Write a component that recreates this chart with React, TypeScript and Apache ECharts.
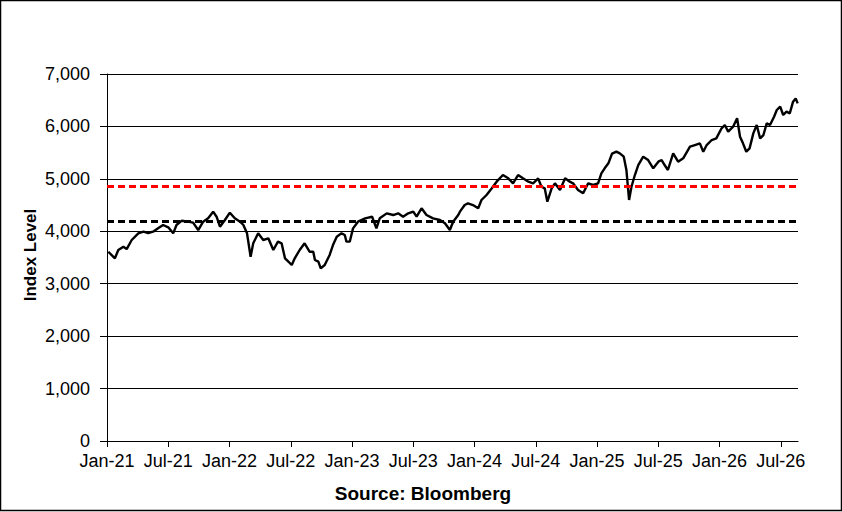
import React, { useEffect, useRef } from "react";
import * as echarts from "echarts";

const xTickLabels = ["Jan-21", "Jul-21", "Jan-22", "Jul-22", "Jan-23", "Jul-23", "Jan-24", "Jul-24", "Jan-25", "Jul-25", "Jan-26", "Jul-26"];
const yTicks = [0, 1000, 2000, 3000, 4000, 5000, 6000, 7000];

const dates = [
  "2021-01-05", "2021-01-25", "2021-02-04", "2021-02-18", "2021-02-27", "2021-03-14", "2021-04-03", "2021-04-18",
  "2021-05-02", "2021-05-17", "2021-06-01", "2021-06-16", "2021-07-01", "2021-07-16", "2021-07-26", "2021-08-11",
  "2021-08-30", "2021-09-14", "2021-09-29", "2021-10-14", "2021-10-29", "2021-11-13", "2021-11-23", "2021-12-03",
  "2021-12-18", "2022-01-02", "2022-01-17", "2022-02-02", "2022-02-11", "2022-02-21", "2022-03-03", "2022-03-11",
  "2022-03-26", "2022-04-10", "2022-04-25", "2022-05-10", "2022-05-24", "2022-06-04", "2022-06-14", "2022-06-24",
  "2022-07-04", "2022-07-13", "2022-07-28", "2022-08-12", "2022-08-27", "2022-09-07", "2022-09-12", "2022-09-22",
  "2022-09-29", "2022-10-11", "2022-10-26", "2022-11-05", "2022-11-16", "2022-11-30", "2022-12-10", "2022-12-15",
  "2022-12-25", "2023-01-04", "2023-01-19", "2023-02-09", "2023-02-28", "2023-03-13", "2023-03-23", "2023-04-13",
  "2023-05-02", "2023-05-17", "2023-06-01", "2023-06-16", "2023-07-01", "2023-07-11", "2023-07-26", "2023-08-10",
  "2023-08-30", "2023-09-19", "2023-10-04", "2023-10-19", "2023-10-29", "2023-11-13", "2023-11-18", "2023-12-02",
  "2023-12-12", "2023-12-27", "2024-01-12", "2024-01-22", "2024-02-06", "2024-02-21", "2024-03-06", "2024-03-25",
  "2024-04-10", "2024-04-24", "2024-05-09", "2024-05-24", "2024-06-09", "2024-06-23", "2024-07-08", "2024-07-18",
  "2024-07-28", "2024-08-05", "2024-08-18", "2024-08-28", "2024-09-12", "2024-09-27", "2024-10-11", "2024-10-21",
  "2024-11-05", "2024-11-20", "2024-12-05", "2024-12-20", "2025-01-04", "2025-01-14", "2025-01-24", "2025-02-04",
  "2025-02-14", "2025-02-26", "2025-03-08", "2025-03-20", "2025-03-28", "2025-04-05", "2025-04-12", "2025-04-22",
  "2025-05-02", "2025-05-17", "2025-06-01", "2025-06-16", "2025-07-01", "2025-07-11", "2025-07-20", "2025-07-30",
  "2025-08-15", "2025-08-30", "2025-09-14", "2025-10-04", "2025-10-19", "2025-11-03", "2025-11-13", "2025-11-23",
  "2025-12-08", "2025-12-22", "2026-01-07", "2026-01-17", "2026-01-27", "2026-02-10", "2026-02-21", "2026-03-01",
  "2026-03-10", "2026-03-20", "2026-03-30", "2026-04-10", "2026-04-20", "2026-04-30", "2026-05-10", "2026-05-20",
  "2026-05-30", "2026-06-11", "2026-06-19", "2026-06-29", "2026-07-08", "2026-07-18", "2026-07-28", "2026-08-07",
  "2026-08-15", "2026-08-21",
];

const indexLevel = [
  3610, 3485, 3643, 3706, 3660, 3834, 3961, 3992,
  3967, 3992, 4056, 4120, 4075, 3961, 4120, 4202,
  4183, 4164, 4024, 4183, 4247, 4374, 4278, 4087,
  4215, 4355, 4247, 4183, 4120, 3961, 3515, 3771,
  3961, 3834, 3866, 3643, 3802, 3771, 3485, 3420,
  3357, 3485, 3643, 3771, 3611, 3611, 3452, 3420,
  3294, 3357, 3548, 3738, 3897, 3961, 3929, 3802,
  3802, 4056, 4183, 4247, 4278, 4056, 4247, 4342,
  4310, 4342, 4278, 4342, 4374, 4278, 4438, 4310,
  4247, 4215, 4152, 4024, 4183, 4310, 4374, 4501,
  4533, 4501, 4438, 4597, 4692, 4820, 4946, 5073,
  5010, 4915, 5073, 5010, 4946, 4915, 5010, 4850,
  4820, 4565, 4820, 4915, 4787, 5010, 4946, 4915,
  4787, 4724, 4915, 4883, 4915, 5106, 5201, 5296,
  5480, 5520, 5487, 5423, 5169, 4597, 4850, 5073,
  5264, 5423, 5359, 5201, 5328, 5359, 5264, 5169,
  5487, 5328, 5392, 5613, 5645, 5677, 5518, 5645,
  5741, 5773, 5964, 6027, 5900, 5995, 6155, 5804,
  5677, 5518, 5582, 5868, 6027, 5773, 5836, 6059,
  6027, 6186, 6313, 6377, 6218, 6281, 6250, 6472,
  6535, 6440,
];

const redLevel = 4850;
const blackLevel = 4200;
const axisEnd = "2026-08-22";

function toMonths(d: string): number {
  const [y, m, day] = d.split("-").map(Number);
  const dim = new Date(y, m, 0).getDate();
  return (y - 2021) * 12 + (m - 1) + (day - 1) / dim;
}

export default function App() {
  const ref = useRef<HTMLDivElement>(null);
  useEffect(() => {
    if (!ref.current) return;
    const chart = echarts.init(ref.current, undefined, { renderer: "svg" });
    const font = "'Liberation Sans', Arial, sans-serif";
    const tickVals = xTickLabels.map((_, i) => i * 6);
    chart.setOption({
      animation: false,
      backgroundColor: "#ffffff",
      grid: { left: 107, right: 44, top: 74, bottom: 71, containLabel: false },
      xAxis: {
        type: "value",
        min: 0,
        max: toMonths(axisEnd),
        axisLine: { show: true, lineStyle: { color: "#000", width: 1 } },
        axisTick: { show: true, customValues: tickVals, length: 6, inside: false, lineStyle: { color: "#000" } },
        axisLabel: {
          customValues: tickVals,
          margin: 11,
          color: "#000",
          fontSize: 18,
          fontFamily: font,
          formatter: (v: number) => xTickLabels[Math.round(v / 6)] ?? "",
        },
        splitLine: { show: false },
      },
      yAxis: {
        type: "value",
        min: yTicks[0],
        max: yTicks[yTicks.length - 1],
        interval: 1000,
        axisLine: { show: true, lineStyle: { color: "#000", width: 1 } },
        axisTick: { show: true, length: 7, lineStyle: { color: "#000" } },
        axisLabel: {
          margin: 17,
          color: "#000",
          fontSize: 18,
          fontFamily: font,
          formatter: (v: number) => v.toLocaleString("en-US"),
        },
        splitLine: { show: true, lineStyle: { color: "#000", width: 1 } },
      },
      series: [
        {
          type: "line",
          data: dates.map((d, i) => [toMonths(d), indexLevel[i]]),
          symbol: "none",
          lineStyle: { color: "#000", width: 2.4 },
          z: 3,
          markLine: {
            silent: true,
            symbol: ["none", "none"],
            label: { show: false },
            lineStyle: { type: [7, 4], width: 3 },
            data: [
              { yAxis: redLevel, lineStyle: { color: "#ff0000", type: [7, 4], width: 3 } },
              { yAxis: blackLevel, lineStyle: { color: "#000000", type: [7, 4], width: 3 } },
            ],
          },
        },
      ],
      graphic: [
        {
          type: "rect",
          shape: { x: 0.5, y: 0.5, width: 841, height: 510 },
          style: { fill: "none", stroke: "#000", lineWidth: 1.5 },
          silent: true,
        },
        {
          type: "text",
          x: 30,
          y: 255,
          rotation: Math.PI / 2,
          style: {
            text: "Index Level",
            fontSize: 17,
            fontWeight: "bold",
            fontFamily: font,
            fill: "#000",
            align: "center",
            verticalAlign: "middle",
          },
        },
        {
          type: "text",
          x: 423,
          y: 493,
          style: {
            text: "Source: Bloomberg",
            fontSize: 19,
            fontWeight: "bold",
            fontFamily: font,
            fill: "#000",
            align: "center",
            verticalAlign: "middle",
          },
        },
      ],
    });
    return () => chart.dispose();
  }, []);
  return (
    <div
      ref={ref}
      style={{ position: "fixed", left: 0, top: 0, width: 842, height: 512 }}
    />
  );
}
